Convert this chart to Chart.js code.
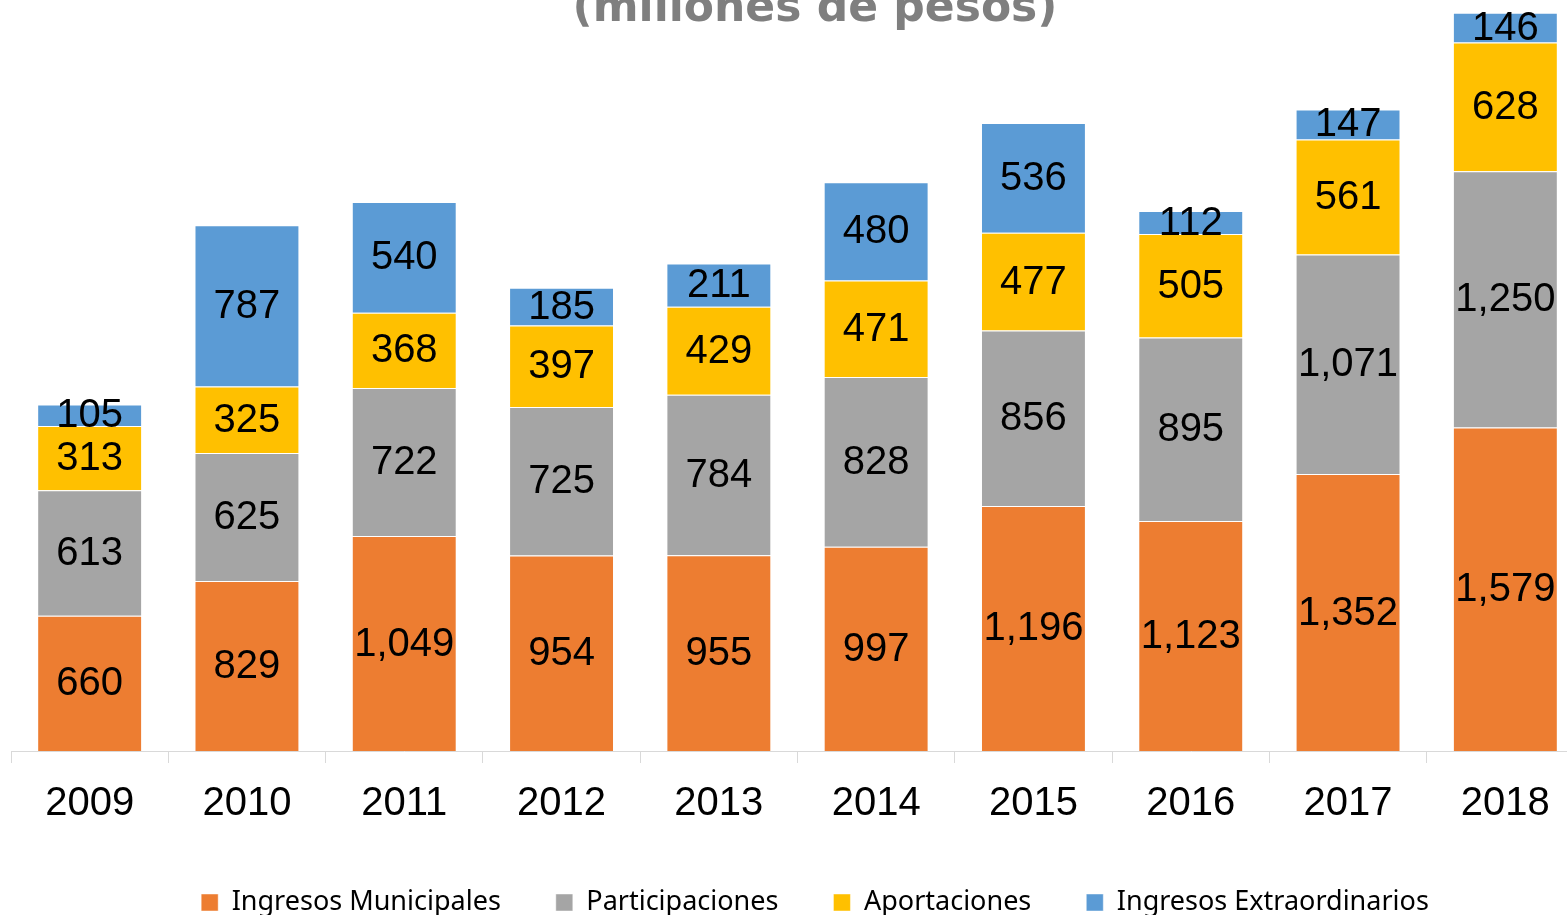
<!DOCTYPE html>
<html>
<head>
<meta charset="utf-8">
<script src="https://cdn.jsdelivr.net/npm/chart.js@4/dist/chart.umd.min.js"></script>
<style>
  html, body { margin: 0; padding: 0; background: #fff; overflow: hidden; width: 1567px; height: 915px; }
  #wrap { position: absolute; left: 0; top: -30px; }
</style>
</head>
<body>
<div id="wrap"><canvas id="myChart" width="1630" height="956"></canvas></div>
<script>
var years = ['2009', '2010', '2011', '2012', '2013', '2014', '2015', '2016', '2017', '2018'];
var municipales = [660, 829, 1049, 954, 955, 997, 1196, 1123, 1352, 1579];
var participaciones = [613, 625, 722, 725, 784, 828, 856, 895, 1071, 1250];
var aportaciones = [313, 325, 368, 397, 429, 471, 477, 505, 561, 628];
var extraordinarios = [105, 787, 540, 185, 211, 480, 536, 112, 147, 146];

// etiquetas de valor dentro de cada segmento
var valueLabels = {
    id: 'valueLabels',
    afterDatasetsDraw: function (chart) {
        var ctx = chart.ctx;
        ctx.save();
        ctx.font = '40px "Liberation Sans", Arial, sans-serif';
        ctx.fillStyle = '#000';
        ctx.textAlign = 'center';
        ctx.textBaseline = 'middle';
        chart.data.datasets.forEach(function (ds, i) {
            var meta = chart.getDatasetMeta(i);
            meta.data.forEach(function (bar, j) {
                var p = bar.getProps(['x', 'y', 'base'], true);
                ctx.fillText(ds.data[j].toLocaleString('en-US'), p.x, (p.y + p.base) / 2 + 1);
            });
        });
        ctx.restore();
    }
};

var ctx = document.getElementById('myChart').getContext('2d');
var chart = new Chart(ctx, {
    type: 'bar',
    data: {
        labels: years,
        datasets: [
            { label: 'Ingresos Municipales', data: municipales, backgroundColor: '#ED7D31' },
            { label: 'Participaciones', data: participaciones, backgroundColor: '#A5A5A5' },
            { label: 'Aportaciones', data: aportaciones, backgroundColor: '#FFC000' },
            { label: 'Ingresos Extraordinarios', data: extraordinarios, backgroundColor: '#5B9BD5' }
        ]
    },
    options: {
        responsive: false,
        animation: false,
        devicePixelRatio: 1,
        layout: { padding: 0 },
        datasets: {
            bar: {
                categoryPercentage: 1,
                barPercentage: 0.667,
                borderWidth: 1,
                borderColor: 'rgba(255,255,255,0.45)'
            }
        },
        scales: {
            x: {
                stacked: true,
                grid: {
                    offset: true,
                    drawOnChartArea: false,
                    drawTicks: true,
                    tickLength: 12,
                    color: '#d9d9d9'
                },
                border: { color: '#d9d9d9', width: 1 },
                ticks: {
                    color: '#000',
                    padding: 17,
                    font: { family: '"Liberation Sans", Arial, sans-serif', size: 40 }
                },
                afterFit: function (s) { s.height = 83; }
            },
            y: {
                stacked: true,
                position: 'left',
                min: 0,
                max: 3700,
                ticks: { display: false },
                grid: { display: false },
                border: { display: false },
                afterFit: function (s) { s.width = 11; }
            },
            yRight: {
                position: 'right',
                min: 0,
                max: 3700,
                ticks: { display: false },
                grid: { display: false },
                border: { display: false },
                afterFit: function (s) { s.width = 46; }
            }
        },
        plugins: {
            title: {
                display: true,
                text: '(millones de pesos)',
                color: '#7f7f7f',
                padding: { top: 13, bottom: -43 },
                font: { family: '"DejaVu Sans", sans-serif', size: 44, weight: 'bold' }
            },
            legend: {
                position: 'bottom',
                labels: {
                    boxWidth: 17,
                    boxHeight: 17,
                    padding: 55,
                    color: '#000',
                    font: { family: '"Noto Sans", sans-serif', size: 27 }
                }
            },
            tooltip: { enabled: false }
        }
    },
    plugins: [valueLabels]
});
</script>
</body>
</html>
